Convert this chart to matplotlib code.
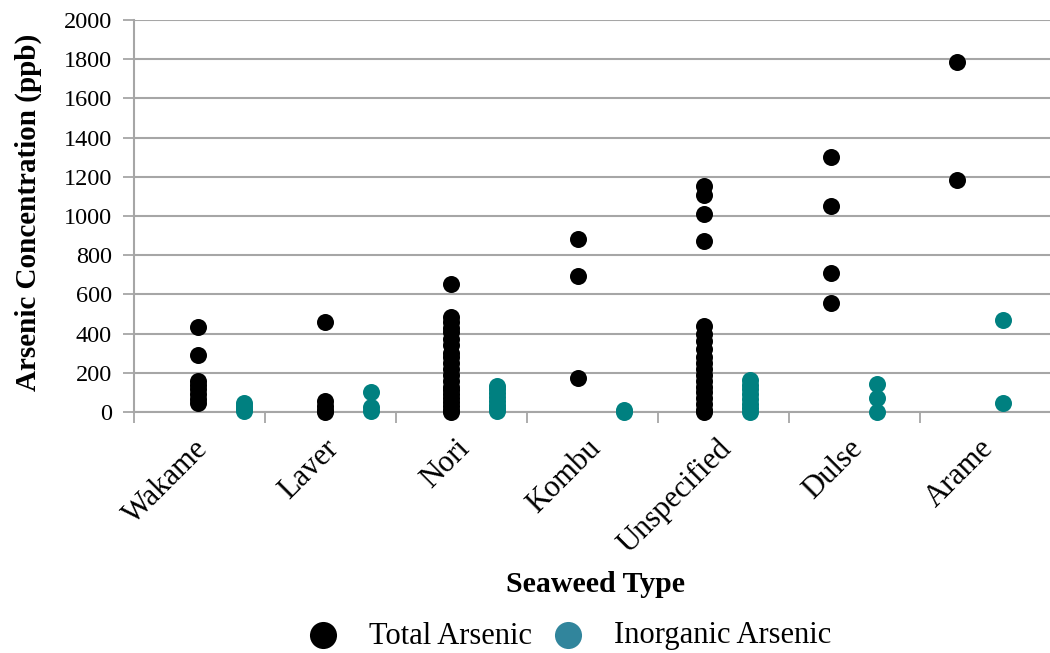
import numpy as np
import matplotlib
matplotlib.use("Agg")
import matplotlib.pyplot as plt

plt.rcParams['font.family'] = ['Liberation Serif', 'DejaVu Serif']

categories = ['Wakame', 'Laver', 'Nori', 'Kombu', 'Unspecified', 'Dulse', 'Arame']

# total arsenic (ppb) per seaweed type
total_arsenic = [
    [435, 290, 160, 140, 115, 90, 65, 45],
    [460, 55, 30, 10, 0],
    [655, 485, 460, 430, 410, 370, 340, 300, 280, 250, 220, 190, 160,
     130, 110, 90, 70, 50, 30, 10, 0],
    [885, 695, 175],
    [1155, 1105, 1010, 875, 440, 400, 360, 320, 280, 250, 220, 190, 160,
     130, 100, 70, 40, 10, 0],
    [1300, 1050, 710, 555],
    [1785, 1185],
]

# inorganic arsenic (ppb) per seaweed type
inorganic_arsenic = [
    [45, 30, 15, 5],
    [100, 25, 5],
    [135, 115, 95, 75, 55, 35, 20, 5],
    [10, 0],
    [165, 140, 115, 90, 65, 40, 20, 0],
    [143, 71, 0],
    [469, 46],
]

W, H = 1050, 653
fig = plt.figure(figsize=(W / 100, H / 100), dpi=100)
ax = fig.add_axes([134 / W, (H - 412) / H, 917 / W, 392 / H])

grid_col = '#a6a6a6'
teal = '#008080'

for i in range(len(categories)):
    xt = 0.49 + 0.966 * i
    xi = xt + 0.35
    ax.scatter([xt] * len(total_arsenic[i]), total_arsenic[i], s=150,
               color='black', zorder=3, linewidths=0, clip_on=False)
    ax.scatter([xi] * len(inorganic_arsenic[i]), inorganic_arsenic[i], s=150,
               color=teal, zorder=3, linewidths=0, clip_on=False)

ax.set_xlim(0, 7)
ax.set_ylim(0, 2000)
ax.set_yticks(np.arange(0, 2001, 200))
ax.set_xticks(np.arange(0, 8, 1))
ax.set_xticklabels([])
ax.set_xticks(np.arange(len(categories)) + 0.45, minor=True)
ax.set_xticklabels(categories, minor=True, rotation=45, ha='right', va='top',
                   rotation_mode='anchor', fontsize=22)
ax.tick_params(axis='x', which='minor', length=0, pad=16)
ax.tick_params(axis='x', which='major', length=8, width=1.3, color=grid_col,
               direction='out')
ax.tick_params(axis='y', length=8, width=1.3, color=grid_col, direction='out',
               labelsize=17.5, pad=8)

ax.grid(axis='y', color=grid_col, linewidth=1.5, zorder=0)
ax.set_axisbelow(True)
for side in ['top', 'right']:
    ax.spines[side].set_visible(False)
for side in ['left', 'bottom']:
    ax.spines[side].set_color(grid_col)
    ax.spines[side].set_linewidth(1.5)

ax.set_ylabel('Arsenic Concentration (ppb)', fontsize=21, fontweight='bold')
ax.yaxis.set_label_coords(-0.1, 0.51)
fig.text(595 / W, (H - 584) / H, 'Seaweed Type', ha='center', va='center',
         fontsize=21.5, fontweight='bold')

h1 = ax.scatter([], [], s=380, color='black', linewidths=0)
h2 = ax.scatter([], [], s=380, color='#31859c', linewidths=0)
fig.legend([h1, h2], ['Total Arsenic', 'Inorganic Arsenic'], ncol=2,
           loc='center', bbox_to_anchor=(562 / W, (H - 636) / H),
           frameon=False, fontsize=22, handletextpad=0.5, columnspacing=0.2)

fig.savefig('out.png', dpi=100)
